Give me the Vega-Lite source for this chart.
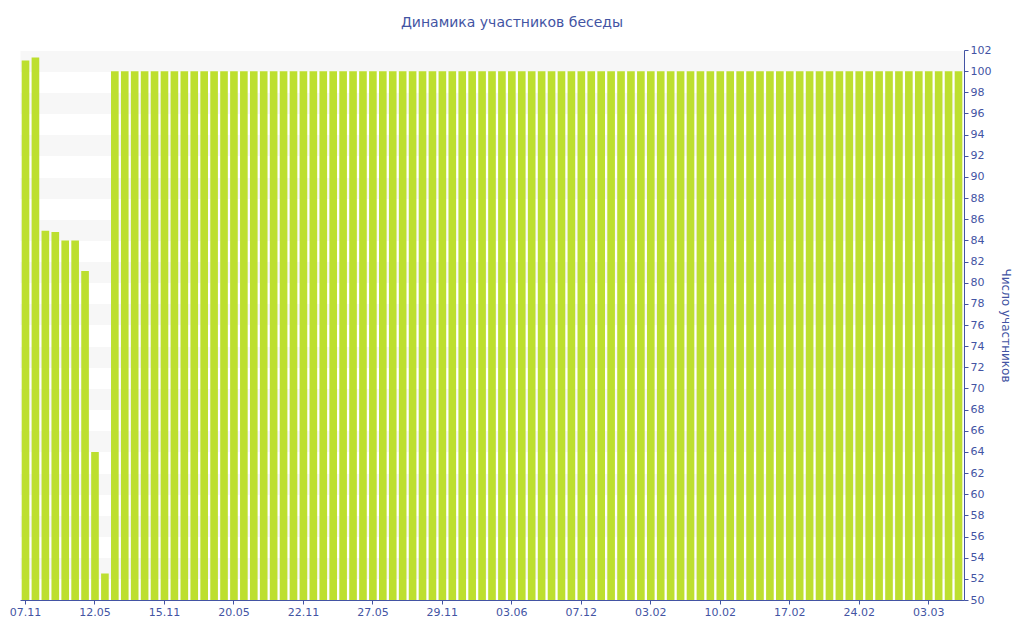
{
  "$schema": "https://vega.github.io/schema/vega-lite/v6.json",
  "autosize": "none",
  "width": 944,
  "height": 550,
  "padding": {"left": 20, "top": 50, "right": 60, "bottom": 40},
  "background": "white",
  "config": {
    "view": {"stroke": null},
    "font": "DejaVu Sans"
  },
  "title": {
    "text": "Динамика участников беседы",
    "fontSize": 14,
    "fontWeight": "normal",
    "color": "#4354a3",
    "anchor": "middle",
    "frame": "group",
    "dx": 20,
    "offset": 14
  },
  "data": {
    "values": [
      {"date": "07.11", "members": 101.0},
      {"date": "08.11", "members": 101.3},
      {"date": "09.11", "members": 84.9},
      {"date": "10.11", "members": 84.8},
      {"date": "11.11", "members": 84.0},
      {"date": "12.11", "members": 84.0},
      {"date": "13.11", "members": 81.1},
      {"date": "12.05", "members": 64.0},
      {"date": "13.05", "members": 52.5},
      {"date": "14.05", "members": 100},
      {"date": "15.05", "members": 100},
      {"date": "16.05", "members": 100},
      {"date": "17.05", "members": 100},
      {"date": "18.05", "members": 100},
      {"date": "15.11", "members": 100},
      {"date": "16.11", "members": 100},
      {"date": "17.11", "members": 100},
      {"date": "18.11", "members": 100},
      {"date": "19.11", "members": 100},
      {"date": "20.11", "members": 100},
      {"date": "21.11", "members": 100},
      {"date": "20.05", "members": 100},
      {"date": "21.05", "members": 100},
      {"date": "22.05", "members": 100},
      {"date": "23.05", "members": 100},
      {"date": "24.05", "members": 100},
      {"date": "25.05", "members": 100},
      {"date": "26.05", "members": 100},
      {"date": "22.11", "members": 100},
      {"date": "23.11", "members": 100},
      {"date": "24.11", "members": 100},
      {"date": "25.11", "members": 100},
      {"date": "26.11", "members": 100},
      {"date": "27.11", "members": 100},
      {"date": "28.11", "members": 100},
      {"date": "27.05", "members": 100},
      {"date": "28.05", "members": 100},
      {"date": "29.05", "members": 100},
      {"date": "30.05", "members": 100},
      {"date": "31.05", "members": 100},
      {"date": "01.06", "members": 100},
      {"date": "02.06", "members": 100},
      {"date": "29.11", "members": 100},
      {"date": "30.11", "members": 100},
      {"date": "01.12", "members": 100},
      {"date": "02.12", "members": 100},
      {"date": "03.12", "members": 100},
      {"date": "04.12", "members": 100},
      {"date": "05.12", "members": 100},
      {"date": "03.06", "members": 100},
      {"date": "04.06", "members": 100},
      {"date": "05.06", "members": 100},
      {"date": "06.06", "members": 100},
      {"date": "07.06", "members": 100},
      {"date": "08.06", "members": 100},
      {"date": "09.06", "members": 100},
      {"date": "07.12", "members": 100},
      {"date": "08.12", "members": 100},
      {"date": "09.12", "members": 100},
      {"date": "10.12", "members": 100},
      {"date": "11.12", "members": 100},
      {"date": "12.12", "members": 100},
      {"date": "13.12", "members": 100},
      {"date": "03.02", "members": 100},
      {"date": "04.02", "members": 100},
      {"date": "05.02", "members": 100},
      {"date": "06.02", "members": 100},
      {"date": "07.02", "members": 100},
      {"date": "08.02", "members": 100},
      {"date": "09.02", "members": 100},
      {"date": "10.02", "members": 100},
      {"date": "11.02", "members": 100},
      {"date": "12.02", "members": 100},
      {"date": "13.02", "members": 100},
      {"date": "14.02", "members": 100},
      {"date": "15.02", "members": 100},
      {"date": "16.02", "members": 100},
      {"date": "17.02", "members": 100},
      {"date": "18.02", "members": 100},
      {"date": "19.02", "members": 100},
      {"date": "20.02", "members": 100},
      {"date": "21.02", "members": 100},
      {"date": "22.02", "members": 100},
      {"date": "23.02", "members": 100},
      {"date": "24.02", "members": 100},
      {"date": "25.02", "members": 100},
      {"date": "26.02", "members": 100},
      {"date": "27.02", "members": 100},
      {"date": "28.02", "members": 100},
      {"date": "01.03", "members": 100},
      {"date": "02.03", "members": 100},
      {"date": "03.03", "members": 100},
      {"date": "04.03", "members": 100},
      {"date": "05.03", "members": 100},
      {"date": "06.03", "members": 100}
    ]
  },
  "encoding": {
    "x": {
      "field": "date",
      "type": "ordinal",
      "sort": null,
      "scale": {"paddingInner": 0.23, "paddingOuter": 0.17},
      "axis": {
        "title": null,
        "values": ["07.11", "12.05", "15.11", "20.05", "22.11", "27.05", "29.11", "03.06", "07.12", "03.02", "10.02", "17.02", "24.02", "03.03"],
        "labelAngle": 0,
        "labelFontSize": 11,
        "labelColor": "#4354a3",
        "labelPadding": 2,
        "tickSize": 4,
        "tickColor": "#4354a3",
        "domainColor": "#4354a3",
        "grid": false
      }
    }
  },
  "layer": [
    {
      "mark": {"type": "bar", "opacity": 0, "clip": true},
      "encoding": {
        "y": {
          "field": "members",
          "type": "quantitative",
          "scale": {"domain": [50, 102], "zero": false, "nice": false},
          "axis": {
            "orient": "left",
            "title": null,
            "labels": false,
            "ticks": false,
            "domain": false,
            "grid": true,
            "values": [53, 57, 61, 65, 69, 73, 77, 81, 85, 89, 93, 97, 101],
            "gridWidth": 21.15,
            "gridColor": "#f7f7f7",
            "gridOpacity": 1
          }
        }
      }
    },
    {
      "mark": {"type": "bar", "color": "#bddf2f", "clip": true},
      "encoding": {
        "y": {
          "field": "members",
          "type": "quantitative",
          "scale": {"domain": [50, 102], "zero": false, "nice": false},
          "axis": {
            "orient": "right",
            "title": "Число участников",
            "titleFontSize": 12,
            "titleFontWeight": "normal",
            "titleColor": "#4354a3",
            "titlePadding": 8,
            "values": [50, 52, 54, 56, 58, 60, 62, 64, 66, 68, 70, 72, 74, 76, 78, 80, 82, 84, 86, 88, 90, 92, 94, 96, 98, 100, 102],
            "labelFontSize": 11,
            "labelColor": "#4354a3",
            "labelPadding": 2,
            "tickSize": 4,
            "tickColor": "#4354a3",
            "domainColor": "#4354a3",
            "grid": false
          }
        }
      }
    }
  ],
  "resolve": {"axis": {"y": "independent"}}
}
